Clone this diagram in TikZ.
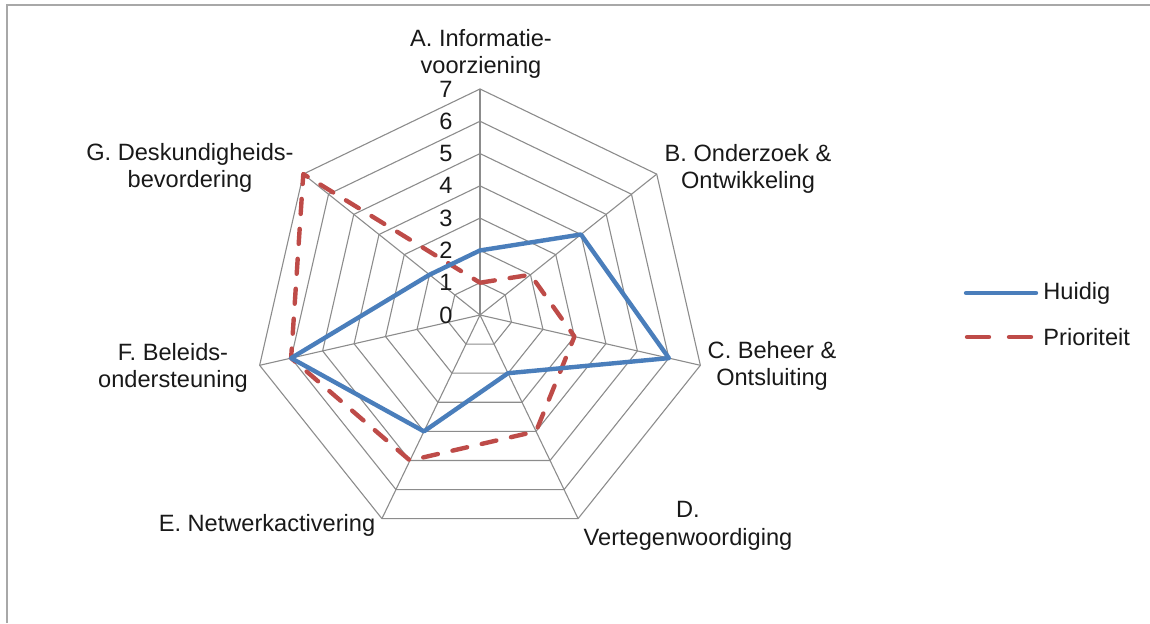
\documentclass[tikz,border=0pt]{standalone}
\usepackage{fontspec}
\setmainfont{Liberation Sans}
\definecolor{gridgray}{HTML}{8C8C8C}
\definecolor{framegray}{HTML}{A8A8A8}
\definecolor{huidigblue}{HTML}{4A7EBB}
\definecolor{priored}{HTML}{BE4B48}
\tikzset{
  gridline/.style={draw=gridgray, line width=0.55pt},
  framestyle/.style={draw=framegray, line width=1.1pt},
  huidig/.style={draw=huidigblue, line width=2.2pt, line join=round},
  prioriteit/.style={draw=priored, line width=2.2pt, line join=round, line cap=round, dash pattern=on 7.5pt off 7.5pt},
  priolegend/.style={draw=priored, line width=2.2pt, line cap=round, dash pattern=on 11pt off 10pt},
  lbl/.style={font=\fontsize{11.8}{13.8}\selectfont, align=center, inner sep=0pt, text=black!90},
  tick/.style={font=\fontsize{11.8}{13.8}\selectfont, inner sep=0pt, text=black!90}
}
\begin{document}
\begin{tikzpicture}[x=0.5pt,y=-0.5pt]
\useasboundingbox (0,0) rectangle (1150,623);
\def\u{32.29}
% frame
\coordinate (fbl) at (7,623);
\coordinate (ftl) at (7,5);
\coordinate (ftr) at (1150,5);
\draw[framestyle] (fbl) -- (ftl) -- (ftr);
% center
\coordinate (ctr) at (480,315);
% grid heptagons
\foreach \l in {1,...,7}{
  \draw[gridline] (480,{315-\l*\u})
    \foreach \k in {1,...,6}{ -- ({480+\l*\u*sin(\k*360/7)},{315-\l*\u*cos(\k*360/7)}) } -- cycle;
}
% spokes
\foreach \k in {0,...,6}{
  \coordinate (sp\k) at ({480+7*\u*sin(\k*360/7)},{315-7*\u*cos(\k*360/7)});
  \draw[gridline] (ctr) -- (sp\k);
}
% tick labels
\foreach \l in {0,...,7}{
  \node[tick] (t\l) at (446,{315-\l*\u}) {\l};
}
% data
\foreach \v [count=\k from 0] in {2,4,6,2,4,6,2}{
  \coordinate (h\k) at ({480+\v*\u*sin(\k*360/7)},{315-\v*\u*cos(\k*360/7)});
}
\foreach \v [count=\k from 0] in {1,2,3,4,5,6,7}{
  \coordinate (p\k) at ({480+\v*\u*sin(\k*360/7)},{315-\v*\u*cos(\k*360/7)});
}
\draw[prioriteit] (p0) -- (p1) -- (p2) -- (p3) -- (p4) -- (p5) -- (p6) -- cycle;
\draw[huidig] (h0) -- (h1) -- (h2) -- (h3) -- (h4) -- (h5) -- (h6) -- cycle;
% axis labels
\node[lbl] (la) at (481,54) {A. Informatie-\\voorziening};
\node[lbl] (lb) at (748,169) {B. Onderzoek \&\\Ontwikkeling};
\node[lbl] (lc) at (772,366) {C. Beheer \&\\Ontsluiting};
\node[lbl] (ld) at (688,526) {D.\\Vertegenwoordiging};
\node[lbl] (le) at (267,525) {E. Netwerkactivering};
\node[lbl] (lf) at (173,368) {F. Beleids-\\ondersteuning};
\node[lbl] (lg) at (190,168) {G. Deskundigheids-\\bevordering};
% legend
\coordinate (lh1) at (966,293);
\coordinate (lh2) at (1036,293);
\coordinate (lp1) at (967,337);
\coordinate (lp2) at (1031,337);
\draw[huidig, line cap=round] (lh1) -- (lh2);
\draw[priolegend] (lp1) -- (lp2);
\node[tick, anchor=west] (lgh) at (1043,293) {Huidig};
\node[tick, anchor=west] (lgp) at (1043,337) {Prioriteit};
\end{tikzpicture}
\end{document}
